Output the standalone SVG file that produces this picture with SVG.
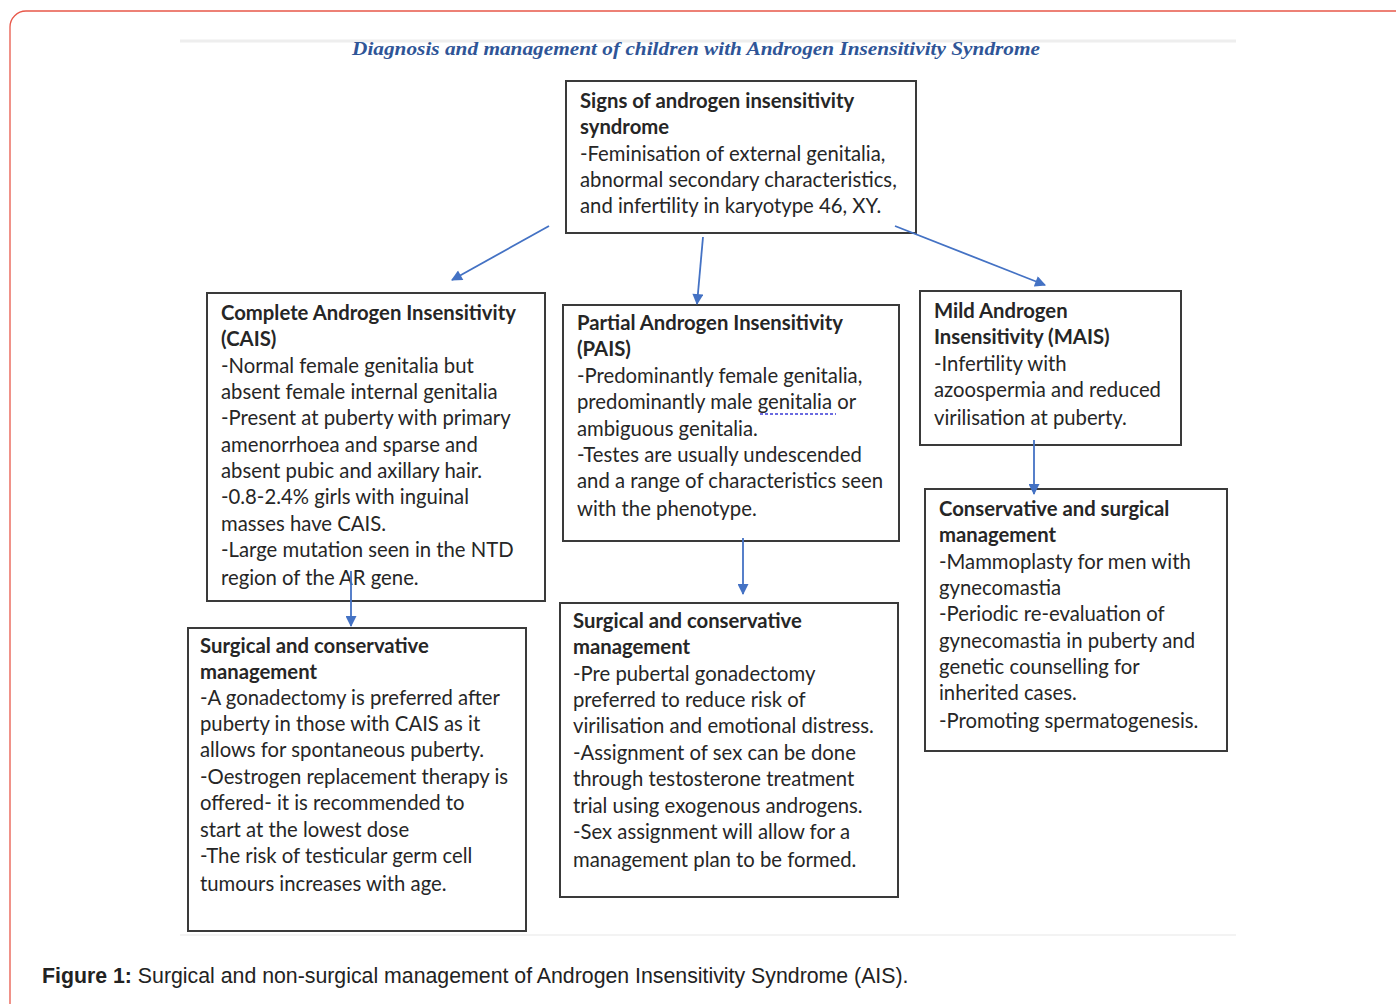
<svg xmlns="http://www.w3.org/2000/svg" width="1396" height="1004" viewBox="0 0 1396 1004">
<style>
.box{fill:#fff;stroke:#3a3a3a;stroke-width:2}
.t{font-family:Lato,"Liberation Sans",sans-serif;font-size:20.3px;fill:#262626}
.b{font-weight:bold}
.arr{stroke:#4472c4;stroke-width:1.8;fill:none;marker-end:url(#ah)}
</style>
<defs>
<marker id="ah" viewBox="0 0 10 10" refX="9" refY="5" markerWidth="12" markerHeight="11" markerUnits="userSpaceOnUse" orient="auto">
<path d="M0,0 L10,5 L0,10 z" fill="#4472c4"/>
</marker>
</defs>
<rect width="1396" height="1004" fill="#fff"/>
<rect x="10" y="11" width="1402" height="1010" rx="16" fill="none" stroke="#e8584a" stroke-width="1.3"/>
<line x1="180" y1="41" x2="1236" y2="41" stroke="#eeeeee" stroke-width="3"/>
<line x1="180" y1="935" x2="1236" y2="935" stroke="#f3f3f3" stroke-width="2"/>
<text x="352" y="55" font-family="'Liberation Serif',serif" font-style="italic" font-weight="bold" font-size="19.5" fill="#2f5597" textLength="688" lengthAdjust="spacingAndGlyphs">Diagnosis and management of children with Androgen Insensitivity Syndrome</text>

<g id="node-signs">
<rect class="box" x="566" y="81" width="350" height="152"/>
<text class="t b" x="580" y="108">Signs of androgen insensitivity</text>
<text class="t b" x="580" y="134">syndrome</text>
<text class="t" x="580" y="161">-Feminisation of external genitalia,</text>
<text class="t" x="580" y="187">abnormal secondary characteristics,</text>
<text class="t" x="580" y="213">and infertility in karyotype 46, XY.</text>
</g>

<g id="node-cais">
<rect class="box" x="207" y="293" width="338" height="308"/>
<text class="t b" x="221" y="320">Complete Androgen Insensitivity</text>
<text class="t b" x="221" y="346">(CAIS)</text>
<text class="t" x="221" y="373">-Normal female genitalia but</text>
<text class="t" x="221" y="399">absent female internal genitalia</text>
<text class="t" x="221" y="425">-Present at puberty with primary</text>
<text class="t" x="221" y="452">amenorrhoea and sparse and</text>
<text class="t" x="221" y="478">absent pubic and axillary hair.</text>
<text class="t" x="221" y="504">-0.8-2.4% girls with inguinal</text>
<text class="t" x="221" y="531">masses have CAIS.</text>
<text class="t" x="221" y="557">-Large mutation seen in the NTD</text>
<text class="t" x="221" y="585">region of the AR gene.</text>
</g>

<g id="node-pais">
<rect class="box" x="563" y="305" width="336" height="236"/>
<text class="t b" x="577" y="330">Partial Androgen Insensitivity</text>
<text class="t b" x="577" y="356">(PAIS)</text>
<text class="t" x="577" y="383">-Predominantly female genitalia,</text>
<text class="t" x="577" y="409">predominantly male genitalia or</text>
<line x1="760" y1="414" x2="836" y2="414" stroke="#3b3bd6" stroke-width="1.5" stroke-dasharray="3,2"/>
<text class="t" x="577" y="436">ambiguous genitalia.</text>
<text class="t" x="577" y="462">-Testes are usually undescended</text>
<text class="t" x="577" y="488">and a range of characteristics seen</text>
<text class="t" x="577" y="516">with the phenotype.</text>
</g>

<g id="node-mais">
<rect class="box" x="920" y="291" width="261" height="154"/>
<text class="t b" x="934" y="318">Mild Androgen</text>
<text class="t b" x="934" y="344">Insensitivity (MAIS)</text>
<text class="t" x="934" y="371">-Infertility with</text>
<text class="t" x="934" y="397">azoospermia and reduced</text>
<text class="t" x="934" y="425">virilisation at puberty.</text>
</g>

<g id="node-cais-mgmt">
<rect class="box" x="188" y="628" width="338" height="303"/>
<text class="t b" x="200" y="653">Surgical and conservative</text>
<text class="t b" x="200" y="679">management</text>
<text class="t" x="200" y="705">-A gonadectomy is preferred after</text>
<text class="t" x="200" y="731">puberty in those with CAIS as it</text>
<text class="t" x="200" y="757">allows for spontaneous puberty.</text>
<text class="t" x="200" y="784">-Oestrogen replacement therapy is</text>
<text class="t" x="200" y="810">offered- it is recommended to</text>
<text class="t" x="200" y="837">start at the lowest dose</text>
<text class="t" x="200" y="863">-The risk of testicular germ cell</text>
<text class="t" x="200" y="891">tumours increases with age.</text>
</g>

<g id="node-pais-mgmt">
<rect class="box" x="560" y="603" width="338" height="294"/>
<text class="t b" x="573" y="628">Surgical and conservative</text>
<text class="t b" x="573" y="654">management</text>
<text class="t" x="573" y="681">-Pre pubertal gonadectomy</text>
<text class="t" x="573" y="707">preferred to reduce risk of</text>
<text class="t" x="573" y="733">virilisation and emotional distress.</text>
<text class="t" x="573" y="760">-Assignment of sex can be done</text>
<text class="t" x="573" y="786">through testosterone treatment</text>
<text class="t" x="573" y="813">trial using exogenous androgens.</text>
<text class="t" x="573" y="839">-Sex assignment will allow for a</text>
<text class="t" x="573" y="867">management plan to be formed.</text>
</g>

<g id="node-mais-mgmt">
<rect class="box" x="925" y="489" width="302" height="262"/>
<text class="t b" x="939" y="516">Conservative and surgical</text>
<text class="t b" x="939" y="542">management</text>
<text class="t" x="939" y="569">-Mammoplasty for men with</text>
<text class="t" x="939" y="595">gynecomastia</text>
<text class="t" x="939" y="621">-Periodic re-evaluation of</text>
<text class="t" x="939" y="648">gynecomastia in puberty and</text>
<text class="t" x="939" y="674">genetic counselling for</text>
<text class="t" x="939" y="700">inherited cases.</text>
<text class="t" x="939" y="728">-Promoting spermatogenesis.</text>
</g>

<g id="connectors">
<line class="arr" x1="549" y1="226" x2="452" y2="280"/>
<line class="arr" x1="703" y1="237" x2="697" y2="304"/>
<line class="arr" x1="895" y1="226" x2="1045" y2="285"/>
<line class="arr" x1="351" y1="571" x2="351" y2="626"/>
<line class="arr" x1="743" y1="538" x2="743" y2="594"/>
<line class="arr" x1="1034" y1="440" x2="1034" y2="494"/>
</g>

<text x="42" y="983" font-family="'Liberation Sans',Arial,sans-serif" font-size="21.3" fill="#222"><tspan font-weight="bold">Figure 1:</tspan> Surgical and non-surgical management of Androgen Insensitivity Syndrome (AIS).</text>
</svg>
